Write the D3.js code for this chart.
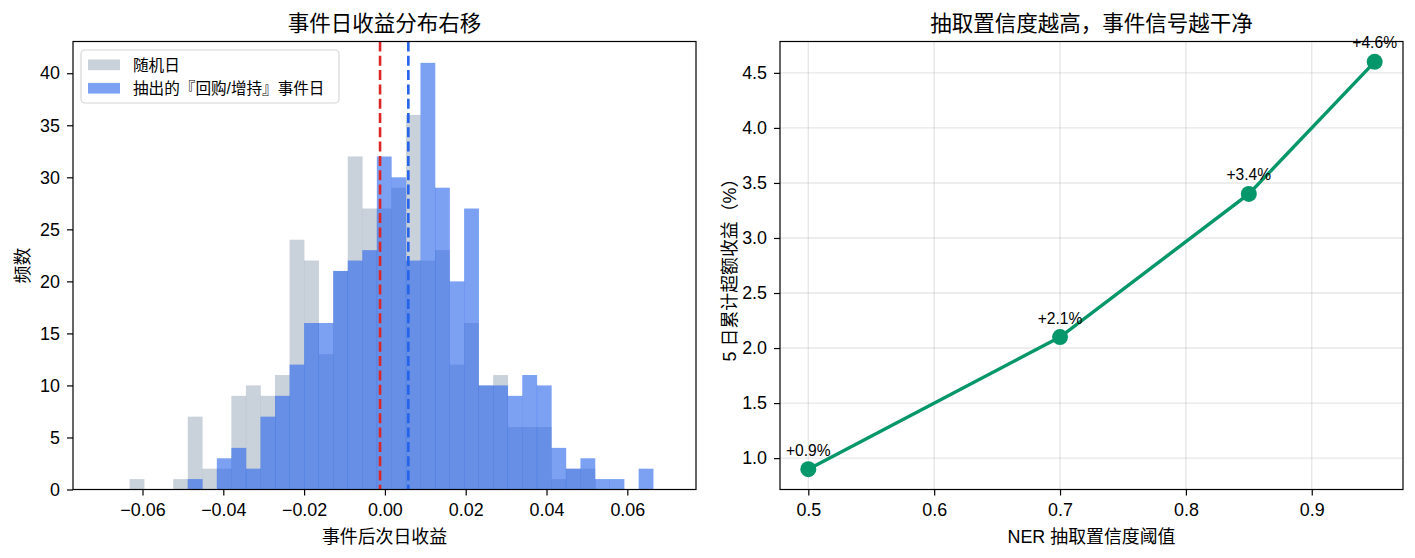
<!DOCTYPE html>
<html>
<head>
<meta charset="utf-8">
<script src="https://cdn.jsdelivr.net/npm/d3@7"></script>
<style>
    body { margin: 0; background: #fff; }
    svg text { font-family: "Liberation Sans", "Noto Sans CJK SC", sans-serif; fill: #000; }
</style>
</head>
<body>
<div class="chartContainer"></div>
<script>

// histogram bins (same bins for both series)
var binStart = -0.0632;
var binWidth = 0.0036;
var randomDayCounts = [ 1, 0, 0, 1, 7, 2, 2, 9, 10, 9, 11, 24, 22, 13, 21, 32, 27, 27, 29, 36, 22, 23, 12, 16, 10, 11, 6, 6, 6, 1, 2, 2, 0, 0, 0, 0 ];
var eventDayCounts = [ 0, 0, 0, 0, 1, 0, 3, 4, 2, 7, 9, 12, 16, 16, 21, 22, 23, 32, 30, 22, 41, 29, 20, 27, 10, 10, 9, 11, 10, 4, 2, 3, 1, 1, 0, 2 ];
var randomMean = -0.0012;
var eventMean = 0.0058;
var histXTicks = [ -0.06, -0.04, -0.02, 0.00, 0.02, 0.04, 0.06 ];
var histYTicks = [ 0, 5, 10, 15, 20, 25, 30, 35, 40 ];

// right panel: threshold vs 5 day excess return
var thresholds = [ 0.5, 0.7, 0.85, 0.95 ];
var excessReturn = [ 0.9, 2.1, 3.4, 4.6 ];
var lineXTicks = [ 0.5, 0.6, 0.7, 0.8, 0.9 ];
var lineYTicks = [ 1.0, 1.5, 2.0, 2.5, 3.0, 3.5, 4.0, 4.5 ];

var legendNames = [ '随机日', '抽出的『回购/增持』事件日' ];

var W = 1415, H = 558;
// note: can't call it "top", window.top is read only
var plotTop = 41.5, plotBottom = 489.5;

var svg = d3.select( '.chartContainer' )
    .append( 'svg' )
    .attr( 'width' , W )
    .attr( 'height' , H );

svg.append( 'rect' ).attr( 'width' , W ).attr( 'height' , H ).attr( 'fill' , '#fff' );

// shared axis look: no domain path (frame rect does it), black ticks
function styleAxis( g ) {
    g.select( '.domain' ).remove();
    g.selectAll( '.tick line' ).attr( 'stroke' , '#000' ).attr( 'stroke-width' , 1.2 );
    g.selectAll( '.tick text' )
        .attr( 'fill' , '#000' )
        .style( 'font-size' , '17.9px' )
        .style( 'font-family' , '"Liberation Sans", "Noto Sans CJK SC", sans-serif' );
}

//---------------- left: histogram ----------------
var L = { left: 73, right: 696 };

var x1 = d3.scaleLinear().domain( [ -0.0772 , 0.0770 ] ).range( [ L.left , L.right ] );
var y1 = d3.scaleLinear().domain( [ 0 , 43.05 ] ).range( [ plotBottom , plotTop ] );

var g1 = svg.append( 'g' );

function drawBars( counts , color , alpha ) {
    g1.append( 'g' ).selectAll( 'rect' )
        .data( counts )
        .enter()
            .append( 'rect' )
            .attr( 'x' , function( d , i ){ return x1( binStart + i * binWidth ) })
            .attr( 'width' , function( d , i ){ return x1( binStart + ( i + 1 ) * binWidth ) - x1( binStart + i * binWidth ) + 0.3 })
            .attr( 'y' , function( d ){ return y1( d ) })
            .attr( 'height' , function( d ){ return y1( 0 ) - y1( d ) })
            .attr( 'fill' , color )
            .attr( 'fill-opacity' , alpha );
}

drawBars( randomDayCounts , '#94a3b8' , 0.5 );
drawBars( eventDayCounts , '#2563eb' , 0.6 );

// mean lines
[ [ randomMean , '#dc2626' ] , [ eventMean , '#2563eb' ] ].forEach( function( m ){
    g1.append( 'line' )
        .attr( 'x1' , x1( m[0] ) ).attr( 'x2' , x1( m[0] ) )
        .attr( 'y1' , plotTop ).attr( 'y2' , plotBottom )
        .attr( 'stroke' , m[1] )
        .attr( 'stroke-width' , 2.6 )
        .attr( 'stroke-dasharray' , '10,4.3' );
});

g1.append( 'g' )
    .attr( 'transform' , 'translate(0,' + plotBottom + ')' )
    .call( d3.axisBottom( x1 ).tickValues( histXTicks ).tickFormat( d3.format( '.2f' ) ).tickSize( 6 ).tickPadding( 8 ) )
    .call( styleAxis );

g1.append( 'g' )
    .attr( 'transform' , 'translate(' + L.left + ',0)' )
    .call( d3.axisLeft( y1 ).tickValues( histYTicks ).tickSize( 6 ).tickPadding( 7 ) )
    .call( styleAxis );

g1.append( 'rect' )
    .attr( 'x' , L.left ).attr( 'y' , plotTop )
    .attr( 'width' , L.right - L.left ).attr( 'height' , plotBottom - plotTop )
    .attr( 'fill' , 'none' ).attr( 'stroke' , '#000' ).attr( 'stroke-width' , 1.2 );

g1.append( 'text' )
    .attr( 'x' , ( L.left + L.right ) / 2 ).attr( 'y' , 31 )
    .attr( 'text-anchor' , 'middle' ).style( 'font-size' , '21.5px' )
    .text( '事件日收益分布右移' );

g1.append( 'text' )
    .attr( 'x' , ( L.left + L.right ) / 2 ).attr( 'y' , 543 )
    .attr( 'text-anchor' , 'middle' ).style( 'font-size' , '17.9px' )
    .text( '事件后次日收益' );

g1.append( 'text' )
    .attr( 'transform' , 'translate(29,' + ( plotTop + plotBottom ) / 2 + ') rotate(-90)' )
    .attr( 'text-anchor' , 'middle' ).style( 'font-size' , '17.9px' )
    .text( '频数' );

// legend
var leg = g1.append( 'g' );
leg.append( 'rect' )
    .attr( 'x' , 81 ).attr( 'y' , 50 ).attr( 'width' , 258 ).attr( 'height' , 53 )
    .attr( 'rx' , 4 ).attr( 'fill' , '#fff' ).attr( 'fill-opacity' , 0.8 )
    .attr( 'stroke' , '#d6d6d6' ).attr( 'stroke-width' , 1.2 );

leg.selectAll( '.sw' )
    .data( [ [ '#94a3b8' , 0.5 ] , [ '#2563eb' , 0.6 ] ] )
    .enter()
        .append( 'rect' )
        .attr( 'x' , 88 ).attr( 'width' , 32 )
        .attr( 'y' , function( d , i ){ return 59.5 + i * 23.4 })
        .attr( 'height' , 10.7 )
        .attr( 'fill' , function( d ){ return d[0] })
        .attr( 'fill-opacity' , function( d ){ return d[1] });

leg.selectAll( '.lt' )
    .data( legendNames )
    .enter()
        .append( 'text' )
        .attr( 'x' , 133 )
        .attr( 'y' , function( d , i ){ return 70.5 + i * 23.4 })
        .style( 'font-size' , '15.6px' )
        .text( function( d ){ return d });

//---------------- right: line chart ----------------
var R = { left: 780, right: 1403 };

var x2 = d3.scaleLinear().domain( [ 0.4775 , 0.9725 ] ).range( [ R.left , R.right ] );
var y2 = d3.scaleLinear().domain( [ 0.715 , 4.785 ] ).range( [ plotBottom , plotTop ] );

var g2 = svg.append( 'g' );

// grid
g2.selectAll( '.gx' ).data( lineXTicks ).enter()
    .append( 'line' )
    .attr( 'x1' , function( d ){ return x2( d ) }).attr( 'x2' , function( d ){ return x2( d ) })
    .attr( 'y1' , plotTop ).attr( 'y2' , plotBottom )
    .attr( 'stroke' , '#b0b0b0' ).attr( 'stroke-opacity' , 0.3 ).attr( 'stroke-width' , 1.4 );
g2.selectAll( '.gy' ).data( lineYTicks ).enter()
    .append( 'line' )
    .attr( 'y1' , function( d ){ return y2( d ) }).attr( 'y2' , function( d ){ return y2( d ) })
    .attr( 'x1' , R.left ).attr( 'x2' , R.right )
    .attr( 'stroke' , '#b0b0b0' ).attr( 'stroke-opacity' , 0.3 ).attr( 'stroke-width' , 1.4 );

var pts = thresholds.map( function( t , i ){ return [ t , excessReturn[i] ] });

g2.append( 'path' )
    .datum( pts )
    .attr( 'd' , d3.line().x( function( d ){ return x2( d[0] ) }).y( function( d ){ return y2( d[1] ) }) )
    .attr( 'fill' , 'none' )
    .attr( 'stroke' , '#059669' )
    .attr( 'stroke-width' , 3.4 );

g2.selectAll( 'circle' )
    .data( pts )
    .enter()
        .append( 'circle' )
        .attr( 'cx' , function( d ){ return x2( d[0] ) })
        .attr( 'cy' , function( d ){ return y2( d[1] ) })
        .attr( 'r' , 8 )
        .attr( 'fill' , '#059669' );

g2.selectAll( '.ann' )
    .data( pts )
    .enter()
        .append( 'text' )
        .attr( 'x' , function( d ){ return x2( d[0] ) })
        .attr( 'y' , function( d ){ return y2( d[1] ) - 13.5 })
        .attr( 'text-anchor' , 'middle' )
        .style( 'font-size' , '15.6px' )
        .text( function( d ){ return '+' + d[1].toFixed( 1 ) + '%' });

g2.append( 'g' )
    .attr( 'transform' , 'translate(0,' + plotBottom + ')' )
    .call( d3.axisBottom( x2 ).tickValues( lineXTicks ).tickFormat( d3.format( '.1f' ) ).tickSize( 6 ).tickPadding( 8 ) )
    .call( styleAxis );

g2.append( 'g' )
    .attr( 'transform' , 'translate(' + R.left + ',0)' )
    .call( d3.axisLeft( y2 ).tickValues( lineYTicks ).tickFormat( d3.format( '.1f' ) ).tickSize( 6 ).tickPadding( 7 ) )
    .call( styleAxis );

g2.append( 'rect' )
    .attr( 'x' , R.left ).attr( 'y' , plotTop )
    .attr( 'width' , R.right - R.left ).attr( 'height' , plotBottom - plotTop )
    .attr( 'fill' , 'none' ).attr( 'stroke' , '#000' ).attr( 'stroke-width' , 1.2 );

g2.append( 'text' )
    .attr( 'x' , ( R.left + R.right ) / 2 ).attr( 'y' , 31 )
    .attr( 'text-anchor' , 'middle' ).style( 'font-size' , '21.5px' )
    .text( '抽取置信度越高，事件信号越干净' );

g2.append( 'text' )
    .attr( 'x' , ( R.left + R.right ) / 2 ).attr( 'y' , 543 )
    .attr( 'text-anchor' , 'middle' ).style( 'font-size' , '17.9px' )
    .text( 'NER 抽取置信度阈值' );

g2.append( 'text' )
    .attr( 'transform' , 'translate(736,' + ( plotTop + plotBottom ) / 2 + ') rotate(-90)' )
    .attr( 'text-anchor' , 'middle' ).style( 'font-size' , '17.9px' )
    .text( '5 日累计超额收益（%）' );

</script>
</body>
</html>
